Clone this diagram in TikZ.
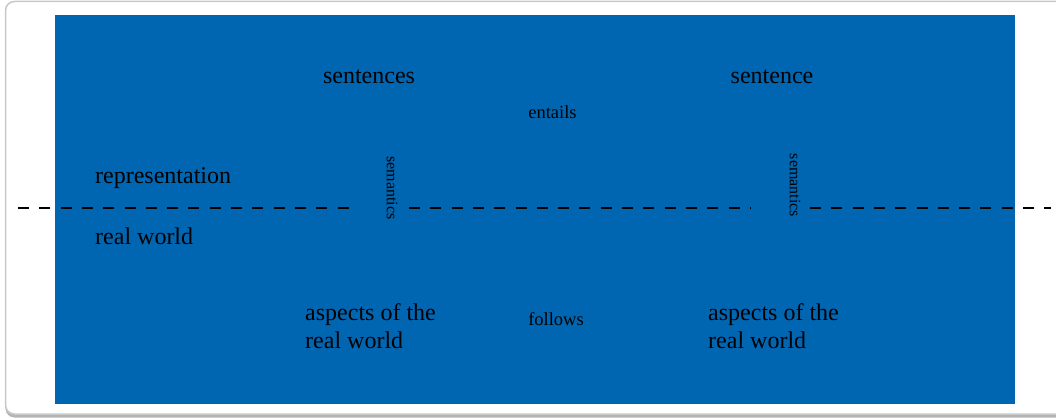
\documentclass[tikz,border=0pt]{standalone}
\usepackage{fontspec}
\setmainfont{Liberation Serif}
\begin{document}
\begin{tikzpicture}[x=1pt,y=-1pt,
  bigtext/.style={inner sep=0pt,font=\rmfamily\fontsize{24}{28}\selectfont},
  smalltext/.style={inner sep=0pt,font=\rmfamily\fontsize{18.5}{22}\selectfont},
  semtext/.style={inner sep=0pt,rotate=-90,font=\rmfamily\fontsize{16}{19}\selectfont},
  divider/.style={line width=1.5pt,dash pattern=on 11pt off 10.3pt}]
\definecolor{panelblue}{RGB}{0,102,178}
\definecolor{framegray}{RGB}{200,200,200}
\definecolor{shadowgray}{RGB}{180,180,180}
\useasboundingbox (0,0) rectangle (1056,419);
\clip (0,0) rectangle (1056,419);
% card with its shadow
\fill[white] (0,0) rectangle (1056,419);
\fill[shadowgray,rounded corners=9pt] (5.5,4.5) rectangle (1080,417.5);
\filldraw[fill=white,draw=framegray,line width=1.5pt,rounded corners=9pt] (5.5,1.5) rectangle (1080,414);
% blue panel
\fill[panelblue] (55,15) rectangle (1015,404);
% labels
\node[bigtext,anchor=base] (sents) at (369,83.5) {sentences};
\node[bigtext,anchor=base] (sent) at (772,83.5) {sentence};
\node[smalltext,anchor=base] (entails) at (552.5,119) {entails};
\node[bigtext,anchor=base west] (repr) at (95,184) {representation};
\node[bigtext,anchor=base west] (real) at (95,245) {real world};
\node[bigtext,anchor=base west,align=left] (aspL) at (305,348) {aspects of the\\real world};
\node[bigtext,anchor=base west,align=left] (aspR) at (708,348) {aspects of the\\real world};
\node[smalltext,anchor=base] (follows) at (556,325) {follows};
\node[semtext] (sem1) at (392,188) {semantics};
\node[semtext] (sem2) at (795,185.5) {semantics};
% dividing line between representation and real world
\coordinate (dL) at (18,208);
\coordinate (dA) at (350,208);
\coordinate (dB) at (409,208);
\coordinate (dC) at (751,208);
\coordinate (dD) at (810,208);
\coordinate (dR) at (1051,208);
\draw[divider] (dL) -- (dA);
\draw[divider] (dB) -- (dC);
\draw[divider] (dD) -- (dR);
\end{tikzpicture}
\end{document}
